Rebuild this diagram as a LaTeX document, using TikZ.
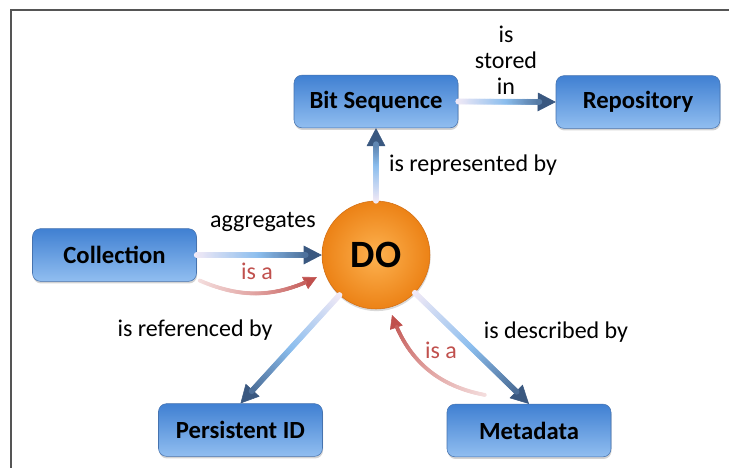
\documentclass[tikz,border=0pt]{standalone}
\usepackage{fontspec}
\setmainfont{Carlito}
\usetikzlibrary{arrows.meta,calc,shadows,decorations.markings}

\definecolor{boxtop}{RGB}{64,128,210}
\definecolor{boxbot}{RGB}{145,190,240}
\definecolor{boxline}{RGB}{70,115,175}
\definecolor{doin}{RGB}{253,178,80}
\definecolor{doout}{RGB}{236,130,22}
\definecolor{doline}{RGB}{210,110,20}
\definecolor{bluestart}{RGB}{242,234,246}
\definecolor{bluemid}{RGB}{140,190,238}
\definecolor{blueend}{RGB}{58,88,128}
\definecolor{redstart}{RGB}{244,222,222}
\definecolor{redmid}{RGB}{224,160,158}
\definecolor{redend}{RGB}{192,80,77}
\definecolor{framec}{RGB}{85,85,85}

% one dot of a fading connector
\newcommand{\flowdot}{%
  \pgfmathtruncatemacro{\flowpct}{100*\pgfkeysvalueof{/pgf/decoration/mark info/distance from start}/\pgfdecoratedpathlength}%
  \ifnum\flowpct<50
    \pgfmathtruncatemacro{\flowmix}{2*\flowpct}%
    \colorlet{flowcol}{\flowmid!\flowmix!\flowstart}%
  \else
    \pgfmathtruncatemacro{\flowmix}{min(2*\flowpct-100,100)}%
    \colorlet{flowcol}{\flowend!\flowmix!\flowmid}%
  \fi
  \fill[flowcol] (0,0) circle[radius=\flowr];%
}

\tikzset{
  box/.style={draw=boxline, rounded corners=6pt, top color=boxtop, bottom color=boxbot,
    minimum width=123pt, minimum height=39.5pt, font=\fontsize{18.5}{22}\selectfont\bfseries,
    drop shadow={shadow xshift=0.4pt, shadow yshift=-1.6pt, opacity=0.35}},
  dobj/.style={circle, draw=doline, inner color=doin, outer color=doout, minimum size=81pt,
    font=\fontsize{29}{34}\selectfont\bfseries,
    drop shadow={shadow xshift=0.4pt, shadow yshift=-1.6pt, opacity=0.3}},
  lbl/.style={font=\fontsize{18}{19.5}\selectfont, align=center},
  flow/.style={draw=blueend, line width=0.4pt, -{Triangle[length=13.5pt,width=14pt]},
    /utils/exec={\def\flowstart{bluestart}\def\flowmid{bluemid}\def\flowend{blueend}\def\flowr{2.2pt}},
    postaction={decorate, decoration={markings,
      mark=between positions 0 and -12pt step 0.8pt with {\flowdot}}}},
  isa/.style={draw=redend, line width=0.4pt, -{Triangle[length=10pt,width=10pt]},
    /utils/exec={\def\flowstart{redstart}\def\flowmid{redmid}\def\flowend{redend}\def\flowr{1.5pt}},
    postaction={decorate, decoration={markings,
      mark=between positions 0 and -9pt step 0.8pt with {\flowdot}}}},
}

\begin{document}
\begin{tikzpicture}[x=0.75pt, y=-0.75pt]
    \useasboundingbox (0,0) rectangle (729,468);
    \draw[framec, line width=1.1pt] (11,468) -- (11,10) -- (729,10);

    \node[box] (bits) at (376,101.5) {Bit Sequence};
    \node[box] (repo) at (638,102) {Repository};
    \node[box] (col) at (114.5,255) {Collection};
    \node[dobj] (do) at (376,255) {DO};
    \node[box] (pid) at (240.5,430) {Persistent ID};
    \node[box] (meta) at (529,430.5) {Metadata};

    \coordinate (isa1s) at ($(col.south east)+(3,-1)$);
    \coordinate (isa1e) at ($(do)+(-59,22)$);
    \coordinate (isa2s) at ($(meta.north west)+(38,-9)$);
    \coordinate (isa2e) at ($(do)+(16,60)$);

    \draw[flow] (col.east) -- (do);
    \draw[flow] (do) -- (bits.south);
    \draw[flow] (bits.east) -- (repo.west);
    \draw[flow] (do) -- (pid.north);
    \draw[flow] (do) -- (meta.north);

    \draw[isa] (isa1s) to[bend right=25] (isa1e);
    \draw[isa] (isa2s) to[bend left=30] (isa2e);

    \node[lbl] (stored) at (506,60) {is\\stored\\in};
    \node[lbl] (repr) at (473,165) {is represented by};
    \node[lbl] (aggr) at (263,222) {aggregates};
    \node[lbl, redend] (isa1) at (257,271) {is a};
    \node[lbl] (refby) at (195,330) {is referenced by};
    \node[lbl] (descby) at (556,332) {is described by};
    \node[lbl, redend] (isa2) at (441,350) {is a};
\end{tikzpicture}
\end{document}
